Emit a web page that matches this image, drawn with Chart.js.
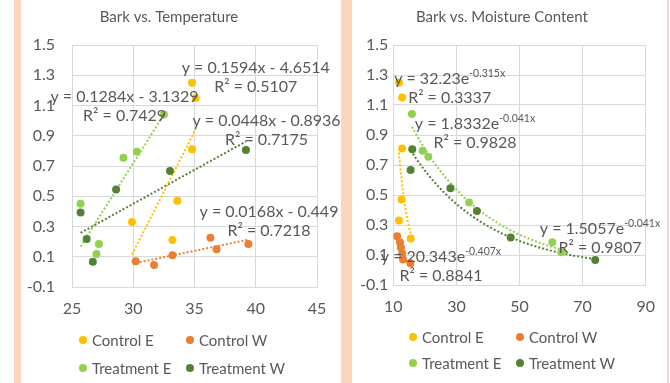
<!DOCTYPE html>
<html>
<head>
<meta charset="utf-8">
<script src="https://cdn.jsdelivr.net/npm/chart.js@4.4.1/dist/chart.umd.min.js"></script>
<style>
  body { margin: 0; background: #fff; font-family: Lato, sans-serif; }
  #page { position: relative; width: 670px; height: 383px; overflow: hidden; }
  .strip { position: absolute; top: 0; height: 383px; background: #fdd5bf; }
  canvas { position: absolute; top: 0; }
  .legend { position: absolute; display: grid; grid-template-columns: 107px auto; font-size: 15px; line-height: 18px; color: #595959; }
  .legend div { display: flex; align-items: center; white-space: nowrap; }
  .legend .dot { width: 8px; height: 8px; border-radius: 50%; margin-right: 5px; }
</style>
</head>
<body>
<div id="page">
  <div class="strip" style="left:14px;width:7px"></div>
  <div class="strip" style="left:341px;width:11px"></div>
  <div class="strip" style="left:667px;width:2px;background:#ecdad3"></div>
  <canvas id="tempChart" width="320" height="383" style="left:21px"></canvas>
  <canvas id="moistChart" width="315" height="383" style="left:352px"></canvas>
  <div class="legend" id="legendTemp" style="left:79px;top:331px;row-gap:10px"></div>
  <div class="legend" id="legendMoist" style="left:409px;top:328px;row-gap:8px"></div>
</div>
<script>
// series
const seriesNames = ['Control E', 'Control W', 'Treatment E', 'Treatment W'];
const seriesColors = ['#FFC000', '#ED7D31', '#92D050', '#548235'];

// bark values and the matching temperature / moisture readings
const barkControlE = [1.25, 1.15, 0.81, 0.47, 0.33, 0.21];
const tempControlE = [34.8, 35.1, 34.8, 33.6, 29.9, 33.2];
const moistControlE = [11.8, 12.8, 12.8, 12.6, 11.8, 15.5];

const barkControlW = [0.225, 0.185, 0.15, 0.11, 0.07, 0.045];
const tempControlW = [36.3, 39.4, 36.8, 33.2, 30.2, 31.7];
const moistControlW = [11.2, 12.1, 12.4, 12.8, 13.1, 15.4];

const barkTreatE = [1.04, 0.795, 0.755, 0.45, 0.185, 0.118];
const tempTreatE = [32.5, 30.3, 29.2, 25.7, 27.2, 27.0];
const moistTreatE = [15.9, 19.3, 21.1, 34.0, 60.4, 63.3];

const barkTreatW = [0.805, 0.667, 0.545, 0.393, 0.217, 0.067];
const tempTreatW = [39.2, 33.0, 28.6, 25.7, 26.2, 26.7];
const moistTreatW = [16.0, 15.5, 28.1, 36.5, 47.2, 74.0];

// trendlines as printed on the chart
const tempSlope = [0.1594, 0.0168, 0.1284, 0.0448];
const tempIntercept = [-4.6514, -0.449, -3.1329, -0.8936];
const tempR2 = ['0.5107', '0.7218', '0.7429', '0.7175'];

const moistCoef = ['32.23', '20.343', '1.8332', '1.5057'];
const moistExp = ['-0.315', '-0.407', '-0.041', '-0.041'];
const moistR2 = ['0.3337', '0.8841', '0.9828', '0.9807'];

// axis ticks
const yTicks = { min: -0.1, max: 1.5, step: 0.2 };
const tempTicks = { min: 25, max: 45, step: 5 };
const moistTicks = { min: 10, max: 90, step: 20 };

const barks = [barkControlE, barkControlW, barkTreatE, barkTreatW];
const temps = [tempControlE, tempControlW, tempTreatE, tempTreatW];
const moists = [moistControlE, moistControlW, moistTreatE, moistTreatW];

// where the equation boxes sit (data coords of first line centre)
const tempLabelAt = [[40.0, 1.348], [41.08, 0.396], [29.29, 1.156], [40.88, 0.998]];
const moistLabelAt = [[27.86, 1.273], [25.1, 0.087], [35.9, 0.973], [75.5, 0.273]];

const GRAY = '#595959';
const FONT = 'Lato';
const EQ_SIZE = 16;
const SUP_SIZE = 10.5;
const TICK_SIZE = 16;

function pointsFor(xs, ys) {
  return xs.map((x, i) => ({ x: x, y: ys[i] }));
}

function linearTrend(xs, m, b) {
  const lo = Math.min(...xs), hi = Math.max(...xs);
  return [{ x: lo, y: m * lo + b }, { x: hi, y: m * hi + b }];
}

function expTrend(xs, a, k) {
  const lo = Math.min(...xs), hi = Math.max(...xs);
  const pts = [];
  for (let i = 0; i <= 40; i++) {
    const x = lo + (hi - lo) * i / 40;
    pts.push({ x: x, y: a * Math.exp(k * x) });
  }
  return pts;
}

function buildDatasets(xsList, trendFn) {
  const ds = [];
  seriesNames.forEach((name, i) => {
    ds.push({
      label: name,
      data: pointsFor(xsList[i], barks[i]),
      backgroundColor: seriesColors[i],
      borderColor: seriesColors[i],
      borderWidth: 0,
      pointRadius: 4,
      pointHoverRadius: 4
    });
  });
  seriesNames.forEach((name, i) => {
    ds.push({
      label: name + ' trend',
      data: trendFn(i),
      showLine: true,
      borderColor: seriesColors[i],
      borderWidth: 2,
      borderDash: [2, 2],
      pointRadius: 0,
      fill: false
    });
  });
  return ds;
}

// draws "y = ..." and "R² = ..." boxes
const equationPlugin = {
  id: 'equations',
  afterDatasetsDraw(chart, args, opts) {
    const ctx = chart.ctx;
    const xs = chart.scales.x, ys = chart.scales.y;
    ctx.save();
    ctx.fillStyle = GRAY;
    ctx.textBaseline = 'middle';
    opts.items.forEach(it => {
      const cx = xs.getPixelForValue(it.at[0]);
      const cy = ys.getPixelForValue(it.at[1]);
      ctx.font = EQ_SIZE + 'px ' + FONT;
      const mainW = ctx.measureText(it.main).width;
      let supW = 0;
      if (it.sup) {
        ctx.font = SUP_SIZE + 'px ' + FONT;
        supW = ctx.measureText(it.sup).width;
      }
      const x0 = cx - (mainW + supW) / 2;
      ctx.font = EQ_SIZE + 'px ' + FONT;
      ctx.textAlign = 'left';
      ctx.fillText(it.main, x0, cy);
      if (it.sup) {
        ctx.font = SUP_SIZE + 'px ' + FONT;
        ctx.fillText(it.sup, x0 + mainW, cy - 5);
      }
      ctx.font = EQ_SIZE + 'px ' + FONT;
      ctx.textAlign = 'center';
      ctx.fillText(it.r2, cx, cy + opts.gap);
    });
    ctx.restore();
  }
};

function axisCfg(t, extra) {
  return Object.assign({
    type: 'linear',
    min: t.min,
    max: t.max,
    grid: { color: '#d9d9d9', drawTicks: false },
    border: { color: '#d9d9d9' }
  }, extra);
}

function makeChart(id, title, xsList, xt, trendFn, labels, geo) {
  new Chart(document.getElementById(id), {
    type: 'scatter',
    data: { datasets: buildDatasets(xsList, trendFn) },
    plugins: [equationPlugin],
    options: {
      responsive: false,
      animation: false,
      layout: { padding: { top: 0, left: 0, right: geo.right, bottom: geo.bottom } },
      scales: {
        x: axisCfg(xt, {
          ticks: { stepSize: xt.step, padding: 12, color: GRAY, font: { family: FONT, size: TICK_SIZE } },
          afterFit: s => { s.height = 30; }
        }),
        y: axisCfg(yTicks, {
          ticks: {
            stepSize: yTicks.step, padding: geo.yPad, color: GRAY,
            font: { family: FONT, size: TICK_SIZE },
            callback: v => v.toFixed(1)
          },
          afterFit: s => { s.width = geo.yWidth; }
        })
      },
      plugins: {
        legend: { display: false },
        tooltip: { enabled: false },
        title: {
          display: true,
          text: title,
          color: GRAY,
          font: { family: FONT, size: 15, weight: 'normal' },
          padding: { top: 8, bottom: 19 }
        },
        equations: { items: labels, gap: 19 }
      }
    }
  });
}

const tempLabels = seriesNames.map((n, i) => ({
  at: tempLabelAt[i],
  main: 'y = ' + tempSlope[i] + 'x ' + (tempIntercept[i] < 0 ? '- ' : '+ ') + Math.abs(tempIntercept[i]),
  r2: 'R² = ' + tempR2[i]
}));

const moistLabels = seriesNames.map((n, i) => ({
  at: moistLabelAt[i],
  main: 'y = ' + moistCoef[i] + 'e',
  sup: moistExp[i] + 'x',
  r2: 'R² = ' + moistR2[i]
}));

makeChart('tempChart', 'Bark vs. Temperature', temps, tempTicks,
  i => linearTrend(temps[i], tempSlope[i], tempIntercept[i]),
  tempLabels, { right: 24, bottom: 66, yWidth: 51, yPad: 17 });

makeChart('moistChart', 'Bark vs. Moisture Content', moists, moistTicks,
  i => expTrend(moists[i], parseFloat(moistCoef[i]), parseFloat(moistExp[i])),
  moistLabels, { right: 15.3, bottom: 68, yWidth: 41.3, yPad: 5 });

function buildLegend(elId) {
  const el = document.getElementById(elId);
  seriesNames.forEach((name, i) => {
    const item = document.createElement('div');
    const dot = document.createElement('span');
    dot.className = 'dot';
    dot.style.background = seriesColors[i];
    item.appendChild(dot);
    item.appendChild(document.createTextNode(name));
    el.appendChild(item);
  });
}
buildLegend('legendTemp');
buildLegend('legendMoist');
</script>
</body>
</html>
